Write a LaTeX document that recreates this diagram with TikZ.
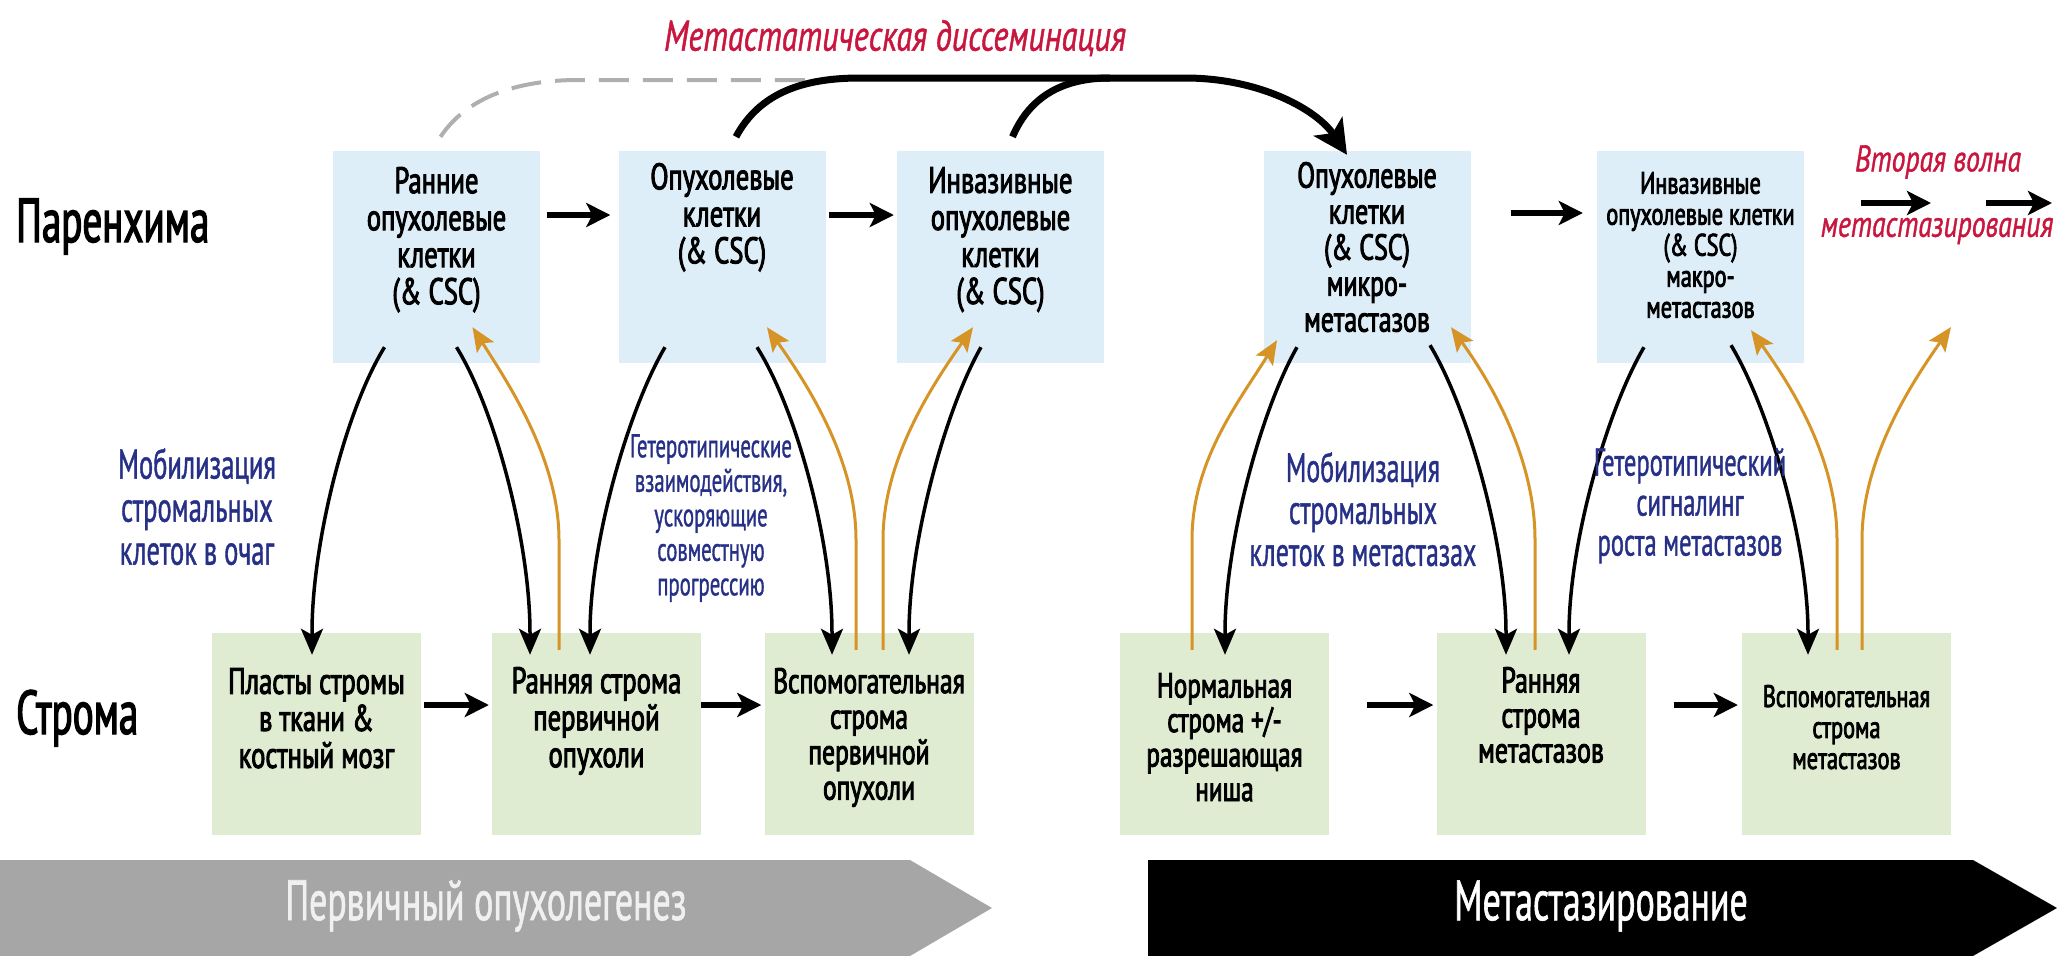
\documentclass[tikz,border=0pt]{standalone}
\usepackage{fontspec}
\setmainfont{PT Sans}[FakeStretch=0.63]
\newfontfamily\cf{PT Sans}[FakeStretch=0.63, RawFeature={embolden=2}]
\newfontfamily\bxf{PT Sans}[FakeStretch=0.72, RawFeature={embolden=2.5}]
\newfontfamily\lf{PT Sans}[FakeStretch=0.63, RawFeature={embolden=1}]
\newfontfamily\itf{PT Sans Italic}[FakeStretch=0.75, RawFeature={embolden=1}]
\usetikzlibrary{arrows.meta}
\definecolor{boxblue}{RGB}{221,238,248}
\definecolor{boxgreen}{RGB}{224,236,209}
\definecolor{orng}{RGB}{214,148,38}
\definecolor{lblue}{RGB}{38,48,135}
\definecolor{redtxt}{RGB}{200,22,62}
\definecolor{bannergray}{RGB}{166,166,166}
\definecolor{dashgray}{RGB}{175,175,175}
\tikzset{
  topbox/.style={fill=boxblue, draw=none, minimum width=207pt, minimum height=212pt, inner sep=0pt},
  botbox/.style={fill=boxgreen, draw=none, minimum width=209pt, minimum height=202pt, inner sep=0pt},
  btxt/.style={font=\bxf\fontsize{37}{37}\selectfont, align=center, anchor=north, inner sep=0pt},
  stxt/.style={font=\bxf\fontsize{31}{31}\selectfont, align=center, anchor=north, inner sep=0pt},
  bluetxt/.style={text=lblue, align=center, anchor=north, inner sep=0pt},
  redlabel/.style={text=redtxt, font=\itf\fontsize{43}{46}\selectfont, inner sep=0pt},
  rowlabel/.style={font=\cf\fontsize{62}{66}\selectfont, anchor=base west, inner sep=0pt},
  bantxt/.style={font=\lf\fontsize{57}{60}\selectfont, inner sep=0pt},
  hstep/.style={line width=6pt, -{Stealth[length=24pt,width=24pt,inset=6pt]}},
  link/.style={line width=3.5pt, -{Stealth[length=26pt,width=22pt,inset=6pt]}},
  olink/.style={draw=orng, line width=3pt, -{Stealth[length=24pt,width=20pt,inset=5pt]}},
  bigarc/.style={line width=7pt},
}
\begin{document}
\begin{tikzpicture}[x=1pt,y=-1pt]
\useasboundingbox (0,0) rectangle (2057,956);

% banners
\fill[bannergray] (0,860) -- (910,860) -- (992,908) -- (910,956) -- (0,956) -- cycle;
\fill[black] (1148,860) -- (1973,860) -- (2057,908) -- (1973,956) -- (1148,956) -- cycle;
\node[bantxt, text=white!94!black] (ban1) at (486,906) {Первичный опухолегенез};
\node[bantxt, text=white] (ban2) at (1601,906) {Метастазирование};

% top boxes
\node[topbox] (t1) at (436.5,257) {};
\node[topbox] (t2) at (722,257) {};
\node[topbox] (t3) at (1000.5,257) {};
\node[topbox] (t4) at (1367,257) {};
\node[topbox] (t5) at (1700.5,257) {};
% bottom boxes
\node[botbox] (s1) at (316.5,734) {};
\node[botbox] (s2) at (596.5,734) {};
\node[botbox] (s3) at (869,734) {};
\node[botbox] (s4) at (1224.5,734) {};
\node[botbox] (s5) at (1541,734) {};
\node[botbox] (s6) at (1846.5,734) {};

% row labels
\node[rowlabel] (par) at (16,242) {Паренхима};
\node[rowlabel] (str) at (16,734) {Строма};

% top arcs
\draw[dashgray, line width=4pt, dash pattern=on 30pt off 14pt]
  ([xshift=4pt,yshift=14pt]t1.north) .. controls +(30,-45) and +(-50,0) .. (578,80) coordinate (dmid) -- (830,80) coordinate (dend);
\draw[bigarc]
  ([xshift=12pt,yshift=14pt]t3.north) .. controls +(18,-42) and +(-45,0) .. (1110,78) coordinate (join);
\draw[bigarc, -{Stealth[length=34pt,width=34pt,inset=8pt]}]
  ([xshift=14pt,yshift=14pt]t2.north) .. controls +(24,-45) and +(-55,0) .. (860,78) coordinate (hstart)
  -- (1185,78) coordinate (hend) .. controls +(75,0) and +(-30,-45) .. ([xshift=-20pt,yshift=-4pt]t4.north);
\node[redlabel] (meta) at (895,38) {Метастатическая диссеминация};

% horizontal steps top
\draw[hstep] ([xshift=7pt,yshift=42pt]t1.east) -- ([xshift=-8pt,yshift=42pt]t2.west);
\draw[hstep] ([xshift=3pt,yshift=42pt]t2.east) -- ([xshift=-3pt,yshift=42pt]t3.west);
\draw[hstep] ([xshift=40pt,yshift=44pt]t4.east) -- ([xshift=-14pt,yshift=44pt]t5.west);
% horizontal steps bottom
\draw[hstep] ([xshift=3pt,yshift=29pt]s1.east) -- ([xshift=-3pt,yshift=29pt]s2.west);
\draw[hstep] ([xshift=0pt,yshift=29pt]s2.east) -- ([xshift=-3pt,yshift=29pt]s3.west);
\draw[hstep] ([xshift=38pt,yshift=29pt]s4.east) -- ([xshift=-3pt,yshift=29pt]s5.west);
\draw[hstep] ([xshift=28pt,yshift=29pt]s5.east) -- ([xshift=-4pt,yshift=29pt]s6.west);

% second wave
\coordinate (w1) at (1861,203);
\coordinate (w2) at (1931,203);
\coordinate (w3) at (1986,203);
\coordinate (w4) at (2052,203);
\draw[hstep] (w1) -- (w2);
\draw[hstep] (w3) -- (w4);
\node[redlabel, font=\itf\fontsize{37}{40}\selectfont] (wave1) at (1938,162) {Вторая волна};
\node[redlabel, font=\itf\fontsize{37}{40}\selectfont] (wave2) at (1937,231) {метастазирования};

% vertical links: primary
\draw[link] ([xshift=-52pt,yshift=16pt]t1.south) .. controls +(-39,63) and +(0,-90) .. ([xshift=-4.5pt]s1.north) -- ([xshift=-4.5pt,yshift=-22pt]s1.north);
\draw[link] ([xshift=20pt,yshift=16pt]t1.south) .. controls +(39,63) and +(0,-90) .. ([xshift=-66.5pt]s2.north) -- ([xshift=-66.5pt,yshift=-22pt]s2.north);
\draw[olink] ([xshift=-37.5pt,yshift=-17pt]s2.north) -- ([xshift=-37.5pt,yshift=93pt]s2.north) .. controls +(0,-80) and +(37,58) .. ([xshift=36pt,yshift=36pt]t1.south);
\draw[link] ([xshift=-57pt,yshift=16pt]t2.south) .. controls +(-37,63) and +(0,-90) .. ([xshift=-6.5pt]s2.north) -- ([xshift=-6.5pt,yshift=-22pt]s2.north);
\draw[link] ([xshift=35pt,yshift=16pt]t2.south) .. controls +(40,63) and +(0,-90) .. ([xshift=-37pt]s3.north) -- ([xshift=-37pt,yshift=-22pt]s3.north);
\draw[olink] ([xshift=-13pt,yshift=-17pt]s3.north) -- ([xshift=-13pt,yshift=93pt]s3.north) .. controls +(0,-80) and +(41,58) .. ([xshift=45pt,yshift=36pt]t2.south);
\draw[olink] ([xshift=14pt,yshift=-17pt]s3.north) -- ([xshift=14pt,yshift=93pt]s3.north) .. controls +(0,-80) and +(-41,58) .. ([xshift=-27.5pt,yshift=36pt]t3.south);
\draw[link] ([xshift=-19.5pt,yshift=16pt]t3.south) .. controls +(-36,63) and +(0,-90) .. ([xshift=40pt]s3.north) -- ([xshift=40pt,yshift=-22pt]s3.north);

% vertical links: metastasis
\draw[olink] ([xshift=-32.5pt,yshift=-17pt]s4.north) -- ([xshift=-32.5pt,yshift=93pt]s4.north) .. controls +(0,-80) and +(-37,60) .. ([xshift=-90pt,yshift=23pt]t4.south);
\draw[link] ([xshift=-70pt,yshift=16pt]t4.south) .. controls +(-36,63) and +(0,-90) .. ([xshift=0.5pt]s4.north) -- ([xshift=0.5pt,yshift=-22pt]s4.north);
\draw[link] ([xshift=63pt,yshift=18pt]t4.south) .. controls +(38,63) and +(0,-90) .. ([xshift=-35pt]s5.north) -- ([xshift=-35pt,yshift=-22pt]s5.north);
\draw[olink] ([xshift=-6pt,yshift=-17pt]s5.north) -- ([xshift=-6pt,yshift=93pt]s5.north) .. controls +(0,-80) and +(42,58) .. ([xshift=84pt,yshift=36pt]t4.south);
\draw[link] ([xshift=-56.5pt,yshift=16pt]t5.south) .. controls +(-37,63) and +(0,-90) .. ([xshift=28pt]s5.north) -- ([xshift=28pt,yshift=-22pt]s5.north);
\draw[link] ([xshift=30.5pt,yshift=18pt]t5.south) .. controls +(38,63) and +(0,-90) .. ([xshift=-38.5pt]s6.north) -- ([xshift=-38.5pt,yshift=-22pt]s6.north);
\draw[olink] ([xshift=-9.5pt,yshift=-17pt]s6.north) -- ([xshift=-9.5pt,yshift=93pt]s6.north) .. controls +(0,-80) and +(42,58) .. ([xshift=50.5pt,yshift=33pt]t5.south);
\coordinate (free) at (1951,327);
\draw[olink] ([xshift=15.5pt,yshift=-17pt]s6.north) -- ([xshift=15.5pt,yshift=93pt]s6.north) .. controls +(0,-80) and +(-41,58) .. (free);

% box texts top
\node[btxt] (t1x) at ([yshift=-16pt]t1.north) {Ранние\\опухолевые\\клетки\\(\& CSC)};
\node[btxt] (t2x) at ([yshift=-12pt]t2.north) {Опухолевые\\клетки\\(\& CSC)};
\node[btxt] (t3x) at ([yshift=-16pt]t3.north) {Инвазивные\\опухолевые\\клетки\\(\& CSC)};
\node[btxt, font=\bxf\fontsize{36}{36}\selectfont] (t4x) at ([yshift=-11pt]t4.north) {Опухолевые\\клетки\\(\& CSC)\\микро-\\метастазов};
\node[stxt] (t5x) at ([yshift=-21pt]t5.north) {Инвазивные\\опухолевые клетки\\(\& CSC)\\макро-\\метастазов};
% box texts bottom
\node[btxt] (s1x) at ([yshift=-35pt]s1.north) {Пласты стромы\\в ткани \&\\костный мозг};
\node[btxt] (s2x) at ([yshift=-34pt]s2.north) {Ранняя строма\\первичной\\опухоли};
\node[btxt, font=\bxf\fontsize{35.5}{35.5}\selectfont] (s3x) at ([yshift=-35pt]s3.north) {Вспомогательная\\строма\\первичной\\опухоли};
\node[btxt, font=\bxf\fontsize{35}{34.5}\selectfont] (s4x) at ([yshift=-40pt]s4.north) {Нормальная\\строма +/-\\разрешающая\\ниша};
\node[btxt, font=\bxf\fontsize{36}{35}\selectfont] (s5x) at ([yshift=-34pt]s5.north) {Ранняя\\строма\\метастазов};
\node[stxt] (s6x) at ([yshift=-52pt]s6.north) {Вспомогательная\\строма\\метастазов};

% blue labels
\node[bluetxt, font=\lf\fontsize{42}{43}\selectfont] (lab1) at (197,448) {Мобилизация\\стромальных\\клеток в очаг};
\node[bluetxt, font=\lf\fontsize{33}{34.5}\selectfont] (lab2) at (711,434) {Гетеротипические\\взаимодействия,\\ускоряющие\\совместную\\прогрессию};
\node[bluetxt, font=\lf\fontsize{41}{42}\selectfont] (lab3) at (1363,452) {Мобилизация\\стромальных\\клеток в метастазах};
\node[bluetxt, font=\lf\fontsize{39}{40}\selectfont] (lab4) at (1690,448) {Гетеротипический\\сигналинг\\роста метастазов};
\end{tikzpicture}
\end{document}
